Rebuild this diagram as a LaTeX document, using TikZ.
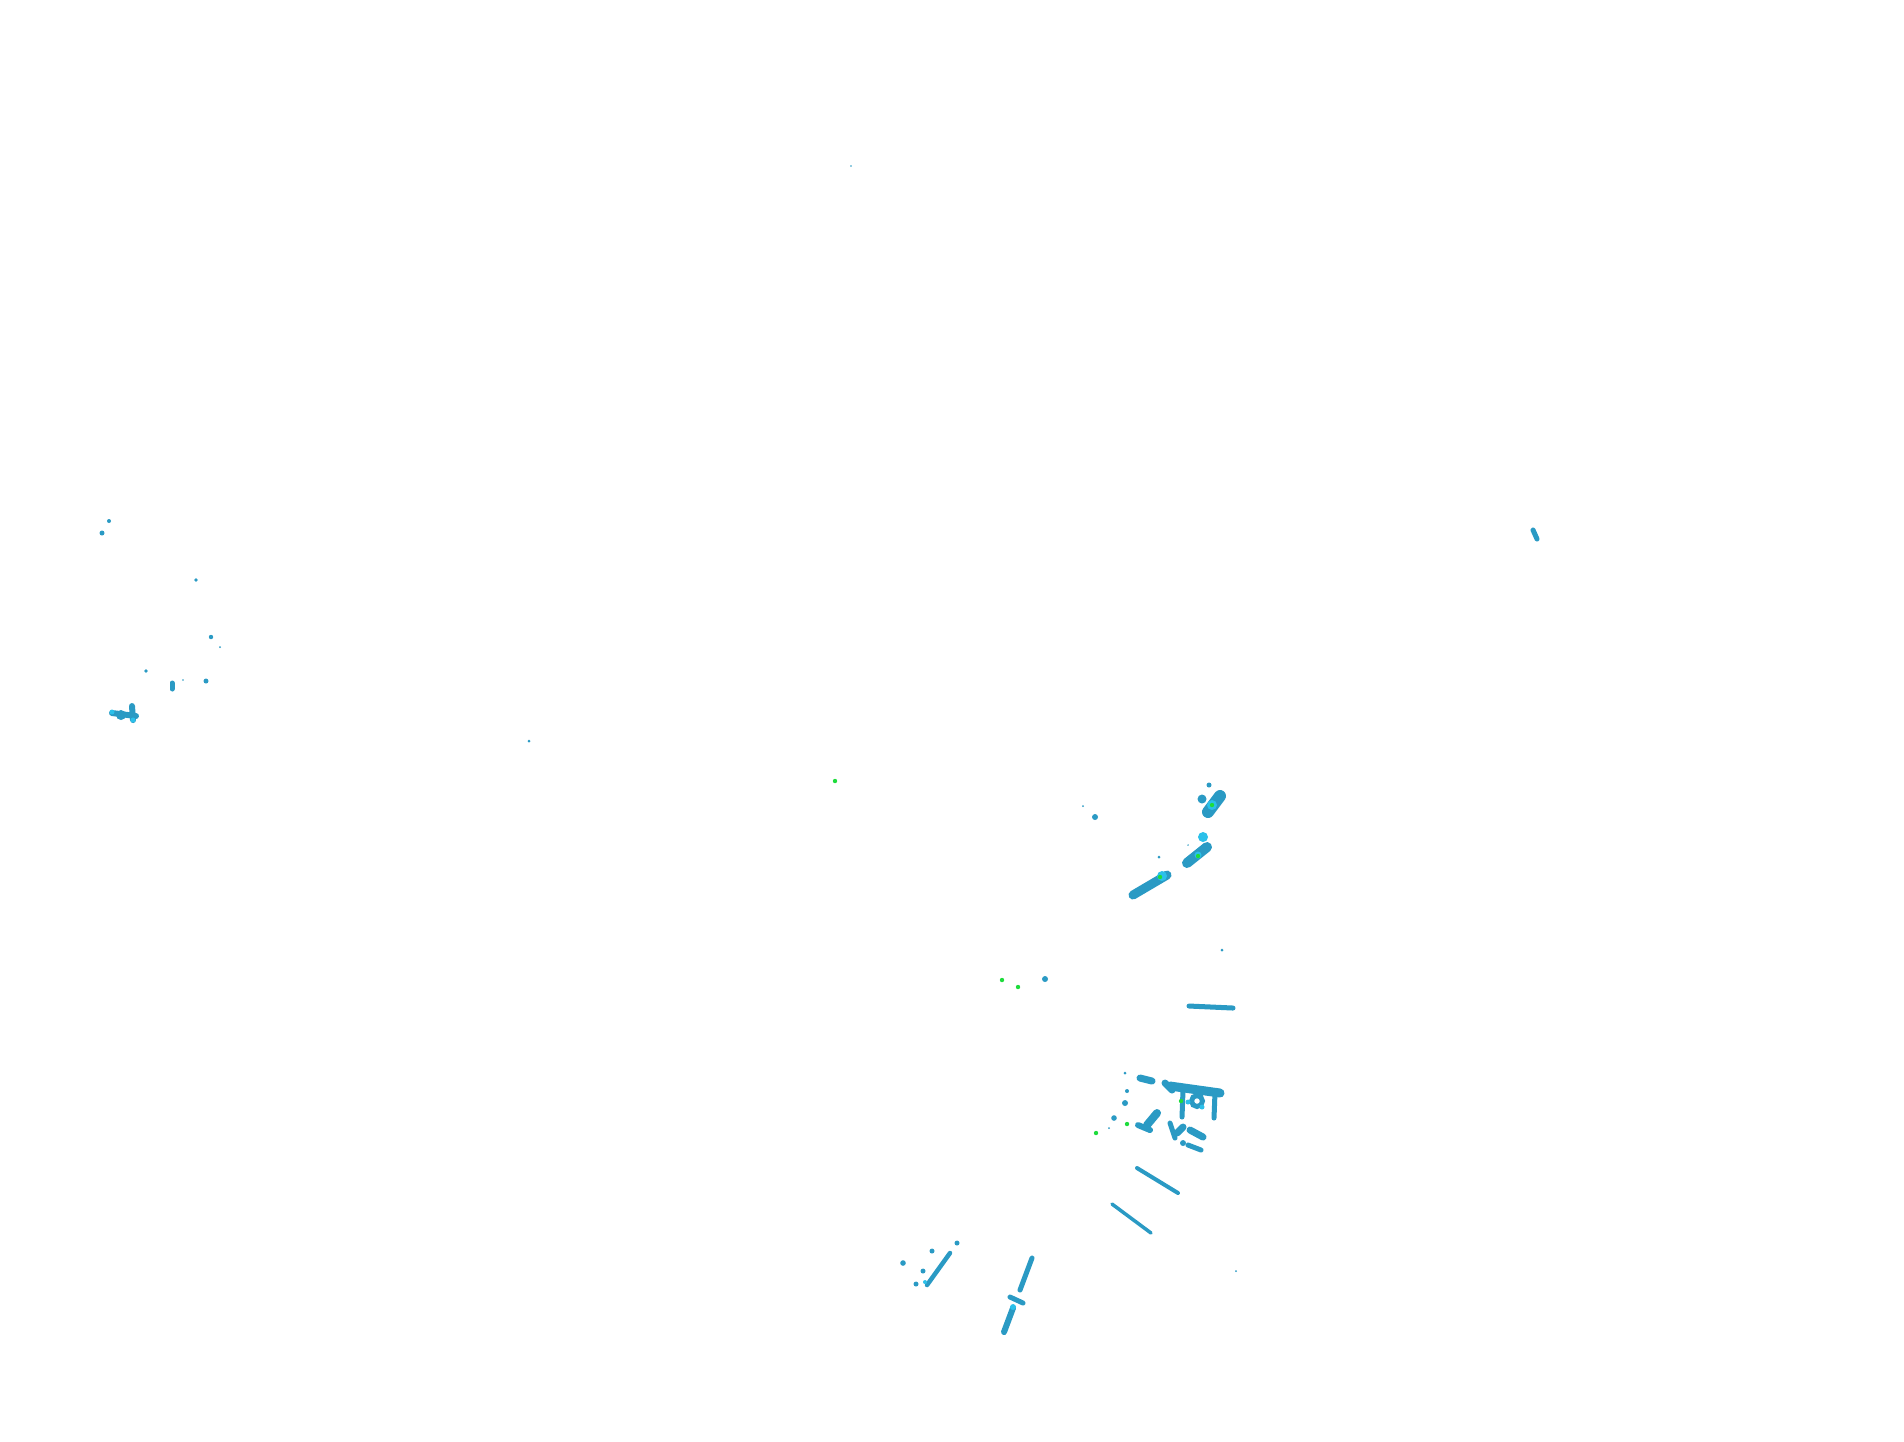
\documentclass[tikz,border=0pt]{standalone}
\usepackage{xcolor}
\usepackage{tikz}
\usetikzlibrary{calc,positioning}
\definecolor{scanblue}{HTML}{2A9AC4}
\definecolor{scanlight}{HTML}{2BC0EA}
\definecolor{scangreen}{HTML}{1EDC3C}
\begin{document}
\begin{tikzpicture}[x=0.01cm,y=-0.01cm]
  \useasboundingbox (0,0) rectangle (1904,1441);
  \fill[white] (0,0) rectangle (1904,1441);

  % single returns
  \foreach \x/\y/\r in {109/521/2, 102/533/2.5, 196/580/1.8, 211/637/2.2, 220/647/1, 146/671/1.8, 183/680/0.8, 206/681/2.5, 529/741/1.5, 851/166/0.8, 1236/1271/1, 1083/806/1, 1095/817/3, 1209/785/2.5, 1202/799/4.5, 1159/857/1.5, 1188/845/0.8, 1222/950/1.5, 1125/1073/1.5, 1125/1103/3, 1114/1118/2.8, 1183/1143/3, 1045/979/3, 957/1243/2.5, 932/1251/2.5, 903/1263/2.8, 923/1271/2.5, 916/1284/2.5, 1127/1091/2, 1109/1128/1}
    \fill[scanblue] (\x,\y) circle (\r);

  % elongated returns
  \foreach \xa/\ya/\xb/\yb/\w in {1533/530/1537/539/5, 172/683/172/689/5, 1208/812/1220/796/12, 1187/863/1207/847/10, 1133/895/1167/875/9, 1189/1006/1233/1008/5, 1140/1078/1152/1081/7, 1147/1125/1157/1113/8, 1138/1125/1150/1130/6, 1170/1123/1175/1138/5, 1177/1133/1183/1127/7, 1190/1130/1203/1137/7, 1188/1145/1201/1150/5, 1137/1168/1178/1193/4, 1112/1204/1151/1233/3.5, 950/1253/927/1285/4.5, 1032/1258/1020/1290/5, 1010/1297/1023/1303/5, 1013/1308/1004/1332/6, 112/713/136/716/6, 132/706/133/720/6, 1170/1086/1220/1093/9, 1183/1090/1182/1117/5, 1215/1092/1214/1118/5, 1165/1083/1172/1090/7}
    \draw[scanblue, line width=\w*0.2845pt, line cap=round] (\xa,\ya) -- (\xb,\yb);
  \fill[scanblue] (121,715) circle (5);
  \draw[scanblue, line width=1.4pt] (1197,1101) circle (5.5);

  % stronger returns
  \foreach \x/\y/\r in {1188/1102/2.5, 1202/1107/2.5, 1162/876/5, 1203/837/5, 1198/855/3.5, 1212/805/5, 1013/1307/3, 925/1282/2, 133/720/2.5, 112/712/2.5}
    \fill[scanlight] (\x,\y) circle (\r);

  % ground hits
  \foreach \x/\y in {835/781, 1212/805, 1198/856, 1160/877, 1181/1101, 1127/1124, 1096/1133, 1002/980, 1018/987}
    \fill[scangreen] (\x,\y) circle (2.2);

\end{tikzpicture}
\end{document}
